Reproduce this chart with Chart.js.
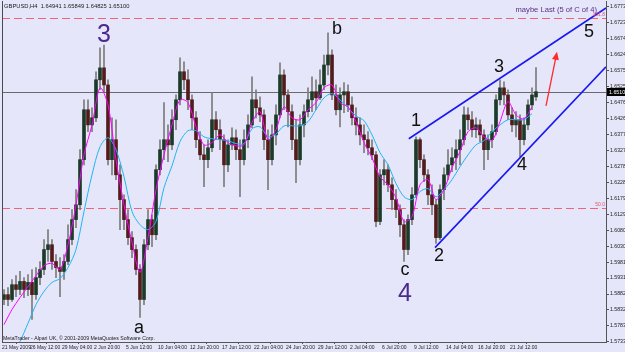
<!DOCTYPE html>
<html><head><meta charset="utf-8">
<script src="https://cdn.jsdelivr.net/npm/chart.js@4"></script>
<style>html,body{margin:0;padding:0;background:#E6E6FA;overflow:hidden}</style>
</head><body>
<canvas id="c" width="625" height="352"></canvas>
<script>
const chartTitle = "GBPUSD,H4  1.64941 1.65849 1.64825 1.65100";
const copyright = "MetaTrader - Alpari UK, \u00A9 2001-2009 MetaQuotes Software Corp.";
const noteText = "maybe Last (5 of C of 4)";

const openP = [1.5865,1.5880,1.5865,1.5911,1.5896,1.5921,1.5896,1.5918,1.5880,1.5933,1.5958,1.6020,1.6035,1.5983,1.5964,1.5952,1.5983,1.6051,1.6113,1.6159,
1.6299,1.6454,1.6407,1.6429,1.6547,1.6584,1.6531,1.6299,1.6361,1.6252,1.6175,1.6113,1.6057,1.6020,1.5958,1.5865,1.6035,1.6113,1.6066,1.6268,
1.6330,1.6361,1.6345,1.6423,1.6485,1.6572,1.6547,1.6485,1.6429,1.6361,1.6314,1.6299,1.6336,1.6423,1.6392,1.6361,1.6283,1.6345,1.6367,1.6330,
1.6299,1.6361,1.6407,1.6485,1.6460,1.6438,1.6361,1.6299,1.6376,1.6438,1.6562,1.6500,1.6448,1.6361,1.6299,1.6407,1.6448,1.6485,1.6510,1.6491,
1.6531,1.6593,1.6624,1.6500,1.6454,1.6500,1.6510,1.6469,1.6429,1.6407,1.6376,1.6361,1.6336,1.6314,1.6107,1.6252,1.6268,1.6221,1.6175,1.6144,
1.6097,1.6020,1.6113,1.6190,1.6361,1.6299,1.6252,1.6190,1.6159,1.6057,1.6206,1.6252,1.6283,1.6305,1.6330,1.6361,1.6438,1.6423,1.6392,1.6407,
1.6376,1.6330,1.6361,1.6386,1.6485,1.6522,1.6500,1.6438,1.6407,1.6423,1.6361,1.6407,1.6469,1.6494];
const highP = [1.5896,1.5902,1.5927,1.5939,1.5952,1.5933,1.5942,1.5958,1.5964,1.5983,1.6051,1.6082,1.6051,1.6004,1.5995,1.6004,1.6097,1.6144,1.6206,1.6330,
1.6485,1.6485,1.6460,1.6572,1.6646,1.6655,1.6547,1.6429,1.6423,1.6283,1.6190,1.6144,1.6076,1.6035,1.5973,1.6051,1.6144,1.6128,1.6283,1.6361,
1.6476,1.6407,1.6454,1.6500,1.6615,1.6603,1.6578,1.6500,1.6448,1.6386,1.6345,1.6361,1.6507,1.6448,1.6423,1.6376,1.6361,1.6398,1.6392,1.6361,
1.6392,1.6438,1.6556,1.6516,1.6494,1.6454,1.6392,1.6407,1.6469,1.6600,1.6578,1.6516,1.6469,1.6423,1.6438,1.6469,1.6522,1.6556,1.6547,1.6578,
1.6624,1.6693,1.6640,1.6531,1.6522,1.6538,1.6531,1.6494,1.6460,1.6429,1.6407,1.6386,1.6361,1.6324,1.6268,1.6299,1.6283,1.6243,1.6206,1.6159,
1.6113,1.6128,1.6212,1.6370,1.6367,1.6314,1.6268,1.6221,1.6175,1.6221,1.6274,1.6330,1.6336,1.6361,1.6392,1.6463,1.6460,1.6448,1.6429,1.6423,
1.6392,1.6376,1.6407,1.6500,1.6547,1.6541,1.6516,1.6460,1.6448,1.6438,1.6429,1.6485,1.6522,1.6585];
const lowP = [1.5849,1.5846,1.5859,1.5874,1.5880,1.5871,1.5877,1.5803,1.5865,1.5911,1.5942,1.5983,1.5958,1.5933,1.5874,1.5927,1.5973,1.6035,1.6088,1.6144,
1.6283,1.6386,1.6386,1.6417,1.6516,1.6510,1.6283,1.6252,1.6237,1.6082,1.6082,1.6035,1.5995,1.5942,1.5809,1.5849,1.6020,1.6029,1.6051,1.6252,
1.6299,1.6293,1.6330,1.6392,1.6469,1.6516,1.6454,1.6392,1.6336,1.6299,1.6215,1.6274,1.6324,1.6361,1.6330,1.6215,1.6262,1.6330,1.6299,1.6184,
1.6283,1.6336,1.6398,1.6429,1.6417,1.6330,1.6206,1.6283,1.6345,1.6429,1.6454,1.6401,1.6330,1.6228,1.6283,1.6370,1.6432,1.6448,1.6454,1.6485,
1.6516,1.6562,1.6485,1.6438,1.6401,1.6445,1.6448,1.6407,1.6376,1.6345,1.6321,1.6314,1.6299,1.6091,1.6097,1.6221,1.6200,1.6144,1.6119,1.6060,
1.5983,1.6004,1.6097,1.6181,1.6274,1.6231,1.6159,1.6128,1.6039,1.6051,1.6175,1.6237,1.6262,1.6268,1.6283,1.6345,1.6392,1.6370,1.6367,1.6355,
1.6268,1.6299,1.6336,1.6376,1.6469,1.6469,1.6423,1.6386,1.6370,1.6308,1.6345,1.6392,1.6454,1.6483];
const closeP = [1.5880,1.5865,1.5911,1.5896,1.5921,1.5896,1.5918,1.5880,1.5933,1.5958,1.6020,1.6035,1.5983,1.5964,1.5952,1.5983,1.6051,1.6113,1.6159,1.6299,
1.6454,1.6407,1.6429,1.6547,1.6584,1.6531,1.6299,1.6361,1.6252,1.6175,1.6113,1.6057,1.6020,1.5958,1.5865,1.6035,1.6113,1.6066,1.6268,1.6330,
1.6361,1.6345,1.6423,1.6485,1.6572,1.6547,1.6485,1.6429,1.6361,1.6314,1.6299,1.6336,1.6423,1.6392,1.6361,1.6283,1.6345,1.6367,1.6330,1.6299,
1.6361,1.6407,1.6485,1.6460,1.6438,1.6361,1.6299,1.6376,1.6438,1.6562,1.6500,1.6448,1.6361,1.6299,1.6407,1.6448,1.6485,1.6510,1.6491,1.6531,
1.6593,1.6624,1.6500,1.6454,1.6500,1.6510,1.6469,1.6429,1.6407,1.6376,1.6361,1.6336,1.6314,1.6107,1.6252,1.6268,1.6221,1.6175,1.6144,1.6097,
1.6020,1.6113,1.6190,1.6361,1.6299,1.6252,1.6190,1.6159,1.6057,1.6206,1.6252,1.6283,1.6305,1.6330,1.6361,1.6438,1.6423,1.6392,1.6407,1.6376,
1.6330,1.6361,1.6386,1.6485,1.6522,1.6500,1.6438,1.6407,1.6423,1.6361,1.6407,1.6469,1.6500,1.6510];

// moving averages read every 2 bars
const maFast = [1.5787,1.5834,1.5871,1.5905,1.5939,1.5970,1.5977,1.5958,1.6035,1.6159,1.6314,1.6407,1.6522,1.6469,1.6299,1.6159,1.6042,1.5949,1.6057,1.6206,
1.6314,1.6407,1.6485,1.6476,1.6401,1.6345,1.6352,1.6376,1.6352,1.6342,1.6345,1.6414,1.6448,1.6361,1.6392,1.6463,1.6429,1.6423,1.6454,1.6476,
1.6522,1.6531,1.6476,1.6463,1.6417,1.6352,1.6305,1.6246,1.6221,1.6181,1.6107,1.6122,1.6221,1.6237,1.6175,1.6206,1.6274,1.6324,1.6386,1.6398,
1.6370,1.6358,1.6417,1.6479,1.6438,1.6426,1.6463];
const maSlow = [1.5663,1.5694,1.5735,1.5791,1.5849,1.5890,1.5918,1.5930,1.5964,1.6020,1.6138,1.6252,1.6339,1.6367,1.6330,1.6246,1.6138,1.6097,1.6082,1.6107,
1.6212,1.6280,1.6355,1.6389,1.6389,1.6370,1.6364,1.6361,1.6358,1.6349,1.6349,1.6395,1.6401,1.6370,1.6379,1.6404,1.6404,1.6404,1.6417,1.6454,
1.6491,1.6504,1.6485,1.6460,1.6435,1.6420,1.6376,1.6321,1.6283,1.6225,1.6184,1.6175,1.6200,1.6209,1.6184,1.6206,1.6237,1.6277,1.6314,1.6345,
1.6358,1.6386,1.6407,1.6423,1.6423,1.6423,1.6442];
const maStepBars = 2;

const timeLabels = ["21 May 2009","26 May 12:00","29 May 04:00","2 Jun 20:00","5 Jun 12:00","10 Jun 04:00","12 Jun 20:00","17 Jun 12:00","22 Jun 04:00","24 Jun 20:00","29 Jun 12:00","2 Jul 04:00","6 Jul 20:00","9 Jul 12:00","14 Jul 04:00","16 Jul 20:00","21 Jul 12:00"];
const timeLabelBars = [-0.5,6.5,14.5,22.5,30.5,38.5,46.5,54.5,62.5,70.5,78.5,86.5,94.5,102.5,110.5,118.5,126.5];
const priceTicks = [1.67730,1.67235,1.66740,1.66245,1.65750,1.65255,1.64760,1.64265,1.63770,1.63275,1.62780,1.62285,1.61790,1.61295,1.60800,1.60305,1.59810,1.59315,1.58820,1.58325,1.57830,1.57335];
const lastPrice = 1.65100;
const fibLevels = [1.6739, 1.6150];
const fibNames = ["161.8", "50.0"];
const channelUpper = [{x:101.2,y:1.6364},{x:150.5,y:1.6770}];
const channelLower = [{x:107.75,y:1.6026},{x:150.5,y:1.6587}];
const arrowFrom = {x:135.5, y:1.6466};
const arrowTo = {x:138.25, y:1.6634};
const waveText  = ["3","a","b","c","4","1","2","3","4","5"];
const waveBar   = [25, 33.75, 83.25, 100.25, 100.25, 103, 108.75, 123.75, 129.5, 146.25];
const wavePrice = [1.6665, 1.5760, 1.6690, 1.5942, 1.5859, 1.6404, 1.5983, 1.6572, 1.6268, 1.6680];
const waveDegree = ["major","minor","minor","minor","major","minor","minor","minor","minor","minor"];

const FONT = "'Liberation Sans', Arial, sans-serif";
Chart.defaults.font.family = FONT;
const BULL = '#1b3a28', BEAR = '#521c1c', WICK = '#7c7c7c';

const wickData = lowP.map((l,i)=>({x:i, y:[l, highP[i]]}));
const bodyData = openP.map((o,i)=>({x:i, y:[o, closeP[i]]}));
const bodyColors = openP.map((o,i)=> closeP[i] >= o ? BULL : BEAR);
const fastData = maFast.map((v,k)=>({x:k*maStepBars, y:v}));
const slowData = maSlow.map((v,k)=>({x:k*maStepBars, y:v}));

const overlay = {
  id:'overlay',
  beforeDatasetsDraw(chart){
    const {ctx, chartArea:a, scales:{y}} = chart;
    ctx.save();
    ctx.lineWidth = 1;
    const py = Math.round(y.getPixelForValue(lastPrice)) + 0.5;
    ctx.strokeStyle = '#6a6a6a';
    ctx.beginPath(); ctx.moveTo(a.left, py); ctx.lineTo(a.right, py); ctx.stroke();
    ctx.setLineDash([8,4]);
    ctx.strokeStyle = '#F0647A';
    fibLevels.forEach(v=>{
      const yy = Math.round(y.getPixelForValue(v)) + 0.5;
      ctx.beginPath(); ctx.moveTo(a.left, yy); ctx.lineTo(a.right, yy); ctx.stroke();
    });
    ctx.restore();
  },
  afterDatasetsDraw(chart){
    const {ctx, chartArea:a, scales:{x,y}} = chart;
    ctx.save();
    ctx.fillStyle = '#E8506A'; ctx.font = '5px ' + FONT; ctx.textAlign = 'right'; ctx.textBaseline = 'alphabetic';
    fibLevels.forEach((v,i)=>{ ctx.fillText(fibNames[i], a.right - 1, y.getPixelForValue(v) - 2); });
    ctx.textAlign = 'center';
    waveText.forEach((t,i)=>{
      const major = waveDegree[i] === 'major';
      ctx.font = (major ? '25px ' : '18px ') + FONT;
      ctx.fillStyle = major ? '#4B2A8C' : '#111111';
      ctx.fillText(t, x.getPixelForValue(waveBar[i]), y.getPixelForValue(wavePrice[i]));
    });
    const x0 = x.getPixelForValue(arrowFrom.x), y0 = y.getPixelForValue(arrowFrom.y);
    const x1 = x.getPixelForValue(arrowTo.x), y1 = y.getPixelForValue(arrowTo.y);
    const ang = Math.atan2(y1-y0, x1-x0);
    ctx.strokeStyle = '#FF2A2A'; ctx.fillStyle = '#FF2A2A'; ctx.lineWidth = 1.3;
    ctx.beginPath(); ctx.moveTo(x0,y0); ctx.lineTo(x1 - 5*Math.cos(ang), y1 - 5*Math.sin(ang)); ctx.stroke();
    ctx.beginPath();
    ctx.moveTo(x1, y1);
    ctx.lineTo(x1 - 8*Math.cos(ang) + 3.5*Math.sin(ang), y1 - 8*Math.sin(ang) - 3.5*Math.cos(ang));
    ctx.lineTo(x1 - 8*Math.cos(ang) - 3.5*Math.sin(ang), y1 - 8*Math.sin(ang) + 3.5*Math.cos(ang));
    ctx.closePath(); ctx.fill();
    ctx.textAlign = 'left'; ctx.fillStyle = '#1a1a1a'; ctx.font = '5.8px ' + FONT;
    ctx.fillText(chartTitle, a.left + 2, a.top + 6.5);
    ctx.font = '5.2px ' + FONT;
    ctx.fillText(copyright, a.left + 1, a.bottom - 2.5);
    ctx.textAlign = 'right'; ctx.fillStyle = '#5B2C83'; ctx.font = '7.6px ' + FONT;
    ctx.fillText(noteText, a.right - 9, a.top + 11);
    ctx.strokeStyle = '#4a4a4a'; ctx.lineWidth = 1;
    ctx.beginPath(); ctx.moveTo(a.left + 0.5, a.top); ctx.lineTo(a.left + 0.5, a.bottom); ctx.stroke();
    ctx.restore();
  },
  afterDraw(chart){
    const {ctx, chartArea:a, scales:{y}} = chart;
    const py = y.getPixelForValue(lastPrice);
    ctx.save();
    ctx.fillStyle = '#000';
    ctx.fillRect(a.right + 1, Math.round(py) - 4, 30, 8);
    ctx.fillStyle = '#fff'; ctx.font = '5.3px ' + FONT; ctx.textAlign = 'left'; ctx.textBaseline = 'middle';
    ctx.fillText(lastPrice.toFixed(5), a.right + 3, py + 0.5);
    ctx.restore();
  }
};

new Chart(document.getElementById('c'), {
  type: 'bar',
  data: {
    datasets: [
      {type:'line', data: channelUpper, borderColor:'#1818F0', borderWidth:1.6, pointRadius:0, order:0},
      {type:'line', data: channelLower, borderColor:'#1818F0', borderWidth:1.6, pointRadius:0, order:0},
      {type:'line', data: fastData, borderColor:'#FF00FF', borderWidth:1, pointRadius:0, tension:0.3, order:1},
      {type:'line', data: slowData, borderColor:'#22B4EE', borderWidth:1, pointRadius:0, tension:0.3, order:1},
      {type:'bar', data: bodyData, backgroundColor: bodyColors, borderWidth:0, barThickness:3, grouped:false, minBarLength:1, order:2},
      {type:'bar', data: wickData, backgroundColor: WICK, borderWidth:0, barThickness:1, grouped:false, order:3}
    ]
  },
  options: {
    responsive:false, animation:false, devicePixelRatio:1,
    layout:{padding:{left:2, top:1, right:0, bottom:0}},
    plugins:{legend:{display:false}, tooltip:{enabled:false}},
    events: [],
    scales:{
      x:{ type:'linear', min:-0.5, max:150.5, offset:false,
        afterBuildTicks: s => { s.ticks = timeLabelBars.map(v=>({value:v})); },
        afterFit: s => { s.height = 10; s.paddingLeft = 0; s.paddingRight = 0; },
        ticks:{ callback:(v,i)=>timeLabels[i], align:'start', autoSkip:false, maxRotation:0, minRotation:0,
          font:{size:5}, color:'#1a1a1a', padding:1 },
        grid:{ drawOnChartArea:false, tickLength:2, color:'#555' },
        border:{ color:'#555' }
      },
      y:{ position:'right', min:1.5733, max:1.67916,
        afterBuildTicks: s => { s.ticks = priceTicks.map(v=>({value:v})); },
        afterFit: s => { s.width = 19; s.paddingTop = 0; s.paddingBottom = 0; },
        ticks:{ callback: v => v.toFixed(5), autoSkip:false, font:{size:5.2}, color:'#1a1a1a', padding:1 },
        grid:{ drawOnChartArea:false, tickLength:3, color:'#555' },
        border:{ color:'#555' }
      }
    }
  },
  plugins:[overlay]
});
</script>
</body></html>
